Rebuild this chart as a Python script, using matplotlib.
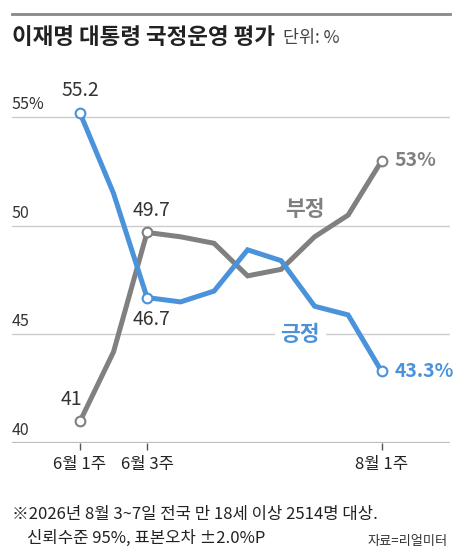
import matplotlib.pyplot as plt
from matplotlib.lines import Line2D

plt.rcParams['font.family'] = ['Noto Sans CJK KR', 'DejaVu Sans']

# 주간 데이터 (6월 1주 ~ 8월 1주)
weeks = list(range(10))
positive = [55.2, 51.5, 46.7, 46.5, 47.0, 48.9, 48.4, 46.3, 45.9, 43.3]
negative = [41.0, 44.2, 49.7, 49.5, 49.2, 47.7, 48.0, 49.5, 50.5, 53.0]
tick_pos = [0, 2, 9]
tick_labels = ['6월 1주', '6월 3주', '8월 1주']
y_grid = [45, 50, 55]
y_labels = ['45', '50', '55%']

BLUE = '#4a92da'
GRAY = '#808080'
W, H = 456, 557

fig = plt.figure(figsize=(W / 100, H / 100), dpi=100)

# 축 위치 (픽셀 기준)
left, right, top, bottom = 12, 450, 74, 443
ax = fig.add_axes([left / W, (H - bottom) / H, (right - left) / W, (bottom - top) / H])
ax.set_xlim(-2.03, 11.04)
ax.set_ylim(40, 57)
for s in ax.spines.values():
    s.set_visible(False)
ax.set_yticks([])

for g in y_grid:
    ax.axhline(g, color='#cccccc', lw=1, zorder=1)
ax.axhline(40, color='#bdbdbd', lw=1.6, zorder=1)

for g, lab in zip(y_grid + [40], y_labels + ['40']):
    ax.annotate(lab, (0, g), xycoords=('axes fraction', 'data'), xytext=(0, 3),
                textcoords='offset points', ha='left', va='bottom',
                fontsize=11.5, color='#333333')

ax.set_xticks(tick_pos)
ax.set_xticklabels(tick_labels, fontsize=12, color='#222222')
ax.tick_params(axis='x', length=5, width=1, color='#555555', pad=4)

# 선
ax.plot(weeks, negative, color=GRAY, lw=3.6, solid_joinstyle='miter', zorder=3)
ax.plot(weeks, positive, color=BLUE, lw=3.6, solid_joinstyle='miter', zorder=4)
for series, c in [(negative, GRAY), (positive, BLUE)]:
    idx = [0, 2, 9]
    ax.plot([weeks[i] for i in idx], [series[i] for i in idx], 'o', ms=7,
            mfc='white', mec=c, mew=1.5, zorder=5)

lab_kw = dict(textcoords='offset points', fontsize=14, color='#333333')
ax.annotate(f'{positive[0]}', (weeks[0], positive[0]), xytext=(0, 9), ha='center', va='bottom', **lab_kw)
ax.annotate(f'{negative[2]}', (weeks[2], negative[2]), xytext=(3, 8), ha='center', va='bottom', **lab_kw)
ax.annotate(f'{positive[2]}', (weeks[2], positive[2]), xytext=(3, -8), ha='center', va='top', **lab_kw)
ax.annotate(f'{negative[0]:.0f}', (weeks[0], negative[0]), xytext=(-6, 8), ha='center', va='bottom', **lab_kw)
ax.annotate(f'{negative[9]:.0f}%', (weeks[9], negative[9]), xytext=(9, 0), textcoords='offset points',
            ha='left', va='center', fontsize=14, color=GRAY, fontweight='bold')
ax.annotate(f'{positive[9]}%', (weeks[9], positive[9]), xytext=(9, 0), textcoords='offset points',
            ha='left', va='center', fontsize=14, color=BLUE, fontweight='bold')

ax.text(6.72, 50.75, '부정', fontsize=15.5, color=GRAY, fontweight='bold', ha='center', va='center', zorder=6)
ax.text(6.57, 45.0, '긍정', fontsize=15.5, color=BLUE, fontweight='bold', ha='center', va='center', zorder=6,
        bbox=dict(facecolor='white', edgecolor='none', pad=4))

# 상단 선과 제목
fig.add_artist(Line2D([left / W, right / W], [1 - 14 / H, 1 - 14 / H], color='#888888', lw=2))
t = fig.text(left / W, 1 - 37 / H, '이재명 대통령 국정운영 평가', fontsize=16.2, fontweight='bold',
             color='#222222', ha='left', va='center')
fig.canvas.draw()
bb = t.get_window_extent()
fig.text((bb.x1 + 8) / W, 1 - 38 / H, '단위: %', fontsize=12.5, color='#444444', ha='left', va='center')

# 주석
fig.text(12 / W, 1 - 514 / H, '※2026년 8월 3~7일 전국 만 18세 이상 2514명 대상.', fontsize=12,
         color='#222222', ha='left', va='center')
fig.text(27 / W, 1 - 538 / H, '신뢰수준 95%, 표본오차 ±2.0%P', fontsize=12,
         color='#222222', ha='left', va='center')
fig.text(448 / W, 1 - 541 / H, '자료=리얼미터', fontsize=9.5, color='#333333', ha='right', va='center')

fig.savefig('out.png', dpi=100)
